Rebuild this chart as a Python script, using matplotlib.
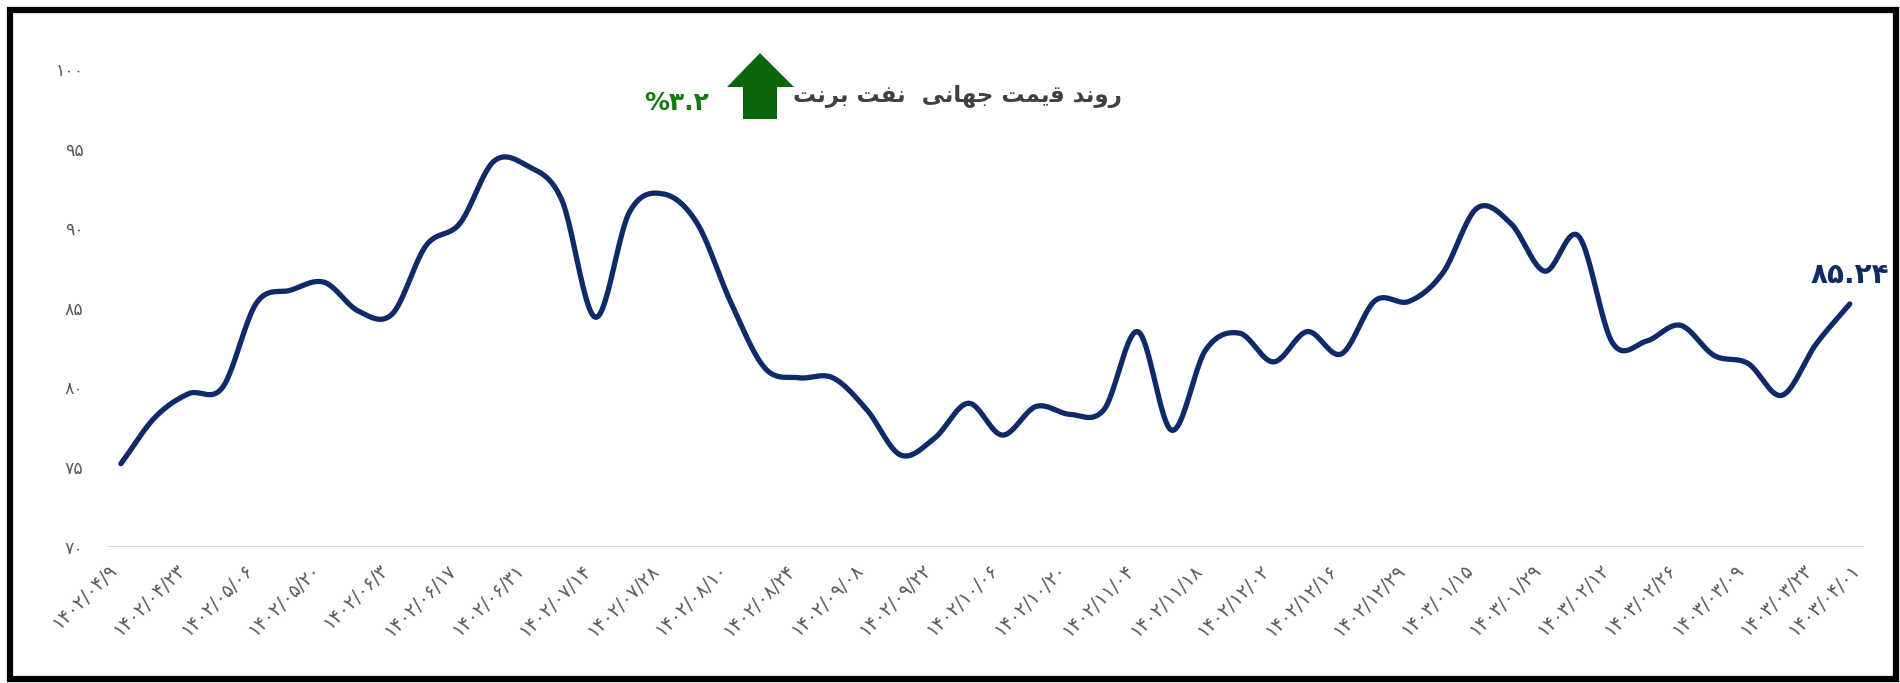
import numpy as np
import matplotlib
matplotlib.use("Agg")
import matplotlib.pyplot as plt
import matplotlib.patches as mpatches
from matplotlib.transforms import IdentityTransform

# weekly Brent close
values = [75.2, 78.1, 79.6, 80.0, 85.3, 86.1, 86.6, 84.8, 84.6, 88.9,
          90.3, 94.2, 93.9, 91.8, 84.4, 91.0, 92.15, 90.3, 85.3, 81.2,
          80.6, 80.6, 78.6, 75.75, 76.8, 79.0, 77.0, 78.8, 78.3, 78.6,
          83.5, 77.3, 82.35, 83.4, 81.6, 83.5, 82.1, 85.45, 85.4, 87.2,
          91.25, 90.3, 87.3, 89.5, 82.8, 82.9, 83.9, 82.0, 81.5, 79.5,
          82.7, 85.24]

tick_dates = ["1402/04/9", "1402/04/23", "1402/05/06", "1402/05/20", "1402/06/3",
              "1402/06/17", "1402/06/31", "1402/07/14", "1402/07/28", "1402/08/10",
              "1402/08/24", "1402/09/08", "1402/09/22", "1402/10/06", "1402/10/20",
              "1402/11/04", "1402/11/18", "1402/12/02", "1402/12/16", "1402/12/29",
              "1403/01/15", "1403/01/29", "1403/02/12", "1403/02/26", "1403/03/09",
              "1403/03/23", "1403/04/01"]

y_ticks = [70, 75, 80, 85, 90, 95, 100]

# Persian title, written in visual order with presentation forms (no shaping in matplotlib)
title_text = ("\uFE96\uFEE7\uFEAE\uFE91" + " " + "\uFE96\uFED4\uFEE7" + "  "
              + "\uFBFD\uFEE7\uFE8E\uFEEC\uFE9F" + " " + "\uFE96\uFEE4\uFBFE\uFED7"
              + " " + "\uFEAA\uFEE7\uFEED\uFEAD")
change_text = "%3.2"
last_text = "85.24"

FA = str.maketrans("0123456789", "۰۱۲۳۴۵۶۷۸۹")


def fa(s):
    return s.translate(FA)


def smooth(y, n=24):
    # catmull-rom style curve through every point, like excel's smoothed line
    y = np.asarray(y, float)
    m = np.gradient(y)
    t = np.linspace(0, 1, n, endpoint=False)
    h00 = 2 * t**3 - 3 * t**2 + 1
    h10 = t**3 - 2 * t**2 + t
    h01 = -2 * t**3 + 3 * t**2
    h11 = t**3 - t**2
    xs, ys = [], []
    for i in range(len(y) - 1):
        xs.append(i + t)
        ys.append(h00 * y[i] + h10 * m[i] + h01 * y[i + 1] + h11 * m[i + 1])
    xs.append([len(y) - 1])
    ys.append([y[-1]])
    return np.concatenate(xs), np.concatenate(ys)


W, H = 1900, 683
fig = plt.figure(figsize=(W / 100, H / 100), dpi=100)
fig.patch.set_facecolor("white")

ax = fig.add_axes([107 / W, 1 - 546.5 / H, (1864 - 107) / W, (546.5 - 69) / H])
ax.set_facecolor("white")

line_color = "#0e2a68"
sx, sy = smooth(values)
ax.plot(sx, sy, color=line_color, lw=3.8, solid_capstyle="round", solid_joinstyle="round")

ax.set_ylim(70, 100)
ax.set_xlim(-0.41, len(values) - 1 + 0.42)
ax.set_yticks(y_ticks)
ax.set_yticklabels([fa(str(v)) for v in y_ticks])
ax.axhline(70, color="#d9d9d9", lw=1.6, zorder=0)

# every second week, and the last date nudged a bit right as in the original
tick_idx = list(range(0, len(values) - 1, 2)) + [len(values) - 1 + 0.4]
ax.set_xticks(tick_idx)
ax.set_xticklabels([fa(d) for d in tick_dates], rotation=45, ha="right", va="top")

for s in ax.spines.values():
    s.set_visible(False)
ax.tick_params(axis="both", length=0, colors="#595959")
ax.tick_params(axis="y", pad=17, labelsize=12.5)
ax.tick_params(axis="x", pad=10, labelsize=13.5)

# last value label
ax.annotate(fa(last_text), (len(values) - 1, values[-1]), xytext=(0, 11),
            textcoords="offset points", ha="center", va="bottom",
            fontsize=20, fontweight="bold", color=line_color)

# title and change
fig.text(957 / W, 1 - 97 / H, title_text, ha="center", va="center",
         fontsize=16.5, fontweight="bold", color="#404040")
fig.text(677 / W, 1 - 103 / H, fa(change_text), ha="center", va="center",
         fontsize=18, fontweight="bold", color="#137a13")

# green up arrow, pixel coords measured from the top
arrow_px = [(760, 53), (794, 87), (777, 87), (777, 119), (743, 119), (743, 87), (727, 87)]
arrow = mpatches.Polygon([(x, H - y) for x, y in arrow_px], closed=True,
                         facecolor="#0a660a", edgecolor="none",
                         transform=IdentityTransform())
fig.patches.append(arrow)

# black frame around the figure
frame = mpatches.Rectangle((10 / W, 4 / H), 1 - 14 / W, 1 - 14 / H, fill=False,
                           edgecolor="black", lw=4.5, transform=fig.transFigure)
fig.patches.append(frame)

fig.savefig("out.png", dpi=100, facecolor="white")
